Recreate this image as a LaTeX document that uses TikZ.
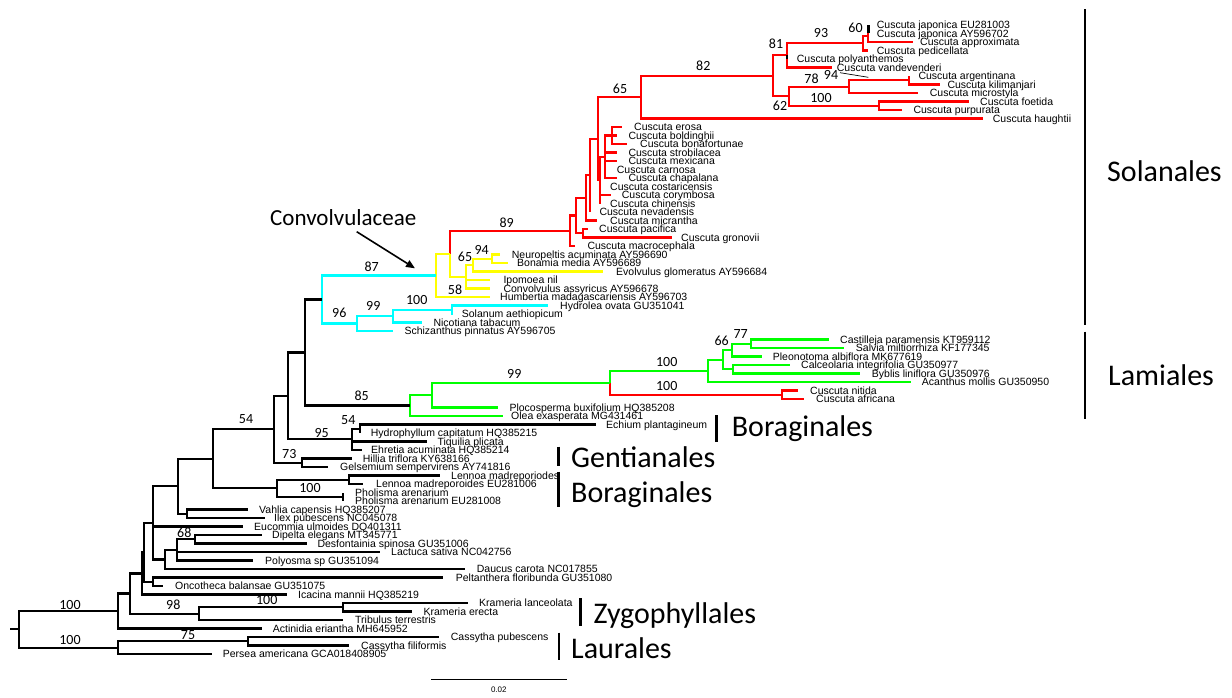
\documentclass[tikz,border=0pt]{standalone}
\usepackage{fontspec}
\setmainfont{Liberation Sans}
\newfontfamily\labfont{Carlito}
\usetikzlibrary{calc,arrows.meta}

\definecolor{tred}{RGB}{255,0,0}
\definecolor{tyellow}{RGB}{255,255,0}
\definecolor{tcyan}{RGB}{0,255,255}
\definecolor{tgreen}{RGB}{0,255,0}

\tikzset{
  br/.style={line width=2.2pt},
  leaf/.style={anchor=base west, inner sep=0pt, font=\fontsize{10.5}{10.5}\selectfont},
  bs/.style={inner sep=0pt, font=\labfont\fontsize{14}{14}\selectfont},
  order/.style={anchor=base west, inner sep=0pt, font=\labfont\fontsize{30}{30}\selectfont},
  bar/.style={line width=2.6pt}
}

% leaf: name, tip x, y, label x, label
\newcommand\leafat[5]{\coordinate (#1) at (#2,#3);
  \node[leaf] (#1l) at (#4,#3+3.8) {#5};}
% inner node: name, x, first child, last child
\newcommand\mknode[4]{\path let \p1=($(#3)!.5!(#4)$) in coordinate (#1) at (#2pt,\y1);}

\begin{document}
\begin{tikzpicture}[x=1pt,y=-1pt]
\useasboundingbox (0,0) rectangle (1232,698);

% leaves
\leafat{cjap1}{868.5}{25}{876.7}{Cuscuta japonica EU281003}
\leafat{cjap2}{868.5}{33.5}{876.7}{Cuscuta japonica AY596702}
\leafat{capp}{913.3}{42}{920}{Cuscuta approximata}
\leafat{cped}{868.3}{50.5}{876.7}{Cuscuta pedicellata}
\leafat{cpol}{786.7}{59}{796.7}{Cuscuta polyanthemos}
\leafat{cvan}{831.7}{67.5}{836.7}{Cuscuta vandevenderi}
\leafat{carg}{909}{76}{918.3}{Cuscuta argentinana}
\leafat{ckil}{940}{84.5}{947.3}{Cuscuta kilimanjari}
\leafat{cmic}{918.3}{93}{929.7}{Cuscuta microstyla}
\leafat{cfoe}{969}{101.5}{980}{Cuscuta foetida}
\leafat{cpur}{901.7}{110}{913.3}{Cuscuta purpurata}
\leafat{chau}{982.7}{118.5}{992.7}{Cuscuta haughtii}
\leafat{cero}{621.7}{127}{634}{Cuscuta erosa}
\leafat{cbol}{616.7}{135.5}{628.3}{Cuscuta boldinghii}
\leafat{cbon}{626.7}{144}{640}{Cuscuta bonafortunae}
\leafat{cstr}{616.7}{152.5}{628.3}{Cuscuta strobilacea}
\leafat{cmex}{616.7}{161}{628.3}{Cuscuta mexicana}
\leafat{ccar}{606}{169.5}{616.7}{Cuscuta carnosa}
\leafat{ccha}{616.7}{178}{628.3}{Cuscuta chapalana}
\leafat{ccos}{600}{186.5}{610}{Cuscuta costaricensis}
\leafat{ccor}{610.7}{195}{621.7}{Cuscuta corymbosa}
\leafat{cchi}{600}{203.5}{610}{Cuscuta chinensis}
\leafat{cnev}{590}{212}{599.3}{Cuscuta nevadensis}
\leafat{cmcr}{596.7}{220.5}{610}{Cuscuta micrantha}
\leafat{cpac}{588}{229}{599}{Cuscuta pacifica}
\leafat{cgro}{672}{237.5}{681}{Cuscuta gronovii}
\leafat{cmac}{575}{246}{587.3}{Cuscuta macrocephala}
\leafat{neur}{500}{254.5}{511.7}{Neuropeltis acuminata AY596690}
\leafat{bona}{508}{263}{517}{Bonamia media AY596689}
\leafat{evol}{603.3}{271.5}{616}{Evolvulus glomeratus AY596684}
\leafat{ipom}{490}{280}{503.3}{Ipomoea nil}
\leafat{conv}{490}{288.5}{503.3}{Convolvulus assyricus AY596678}
\leafat{humb}{490}{297}{500}{Humbertia madagascariensis AY596703}
\leafat{hydr}{548}{305.5}{560}{Hydrolea ovata GU351041}
\leafat{sola}{452}{314}{461.7}{Solanum aethiopicum}
\leafat{nico}{421.7}{322.5}{433.3}{Nicotiana tabacum}
\leafat{schi}{393.3}{331}{404.3}{Schizanthus pinnatus AY596705}
\leafat{cast}{829.3}{339.5}{840}{Castilleja paramensis KT959112}
\leafat{salv}{844.3}{348}{855.7}{Salvia miltiorrhiza KF177345}
\leafat{pleo}{761.7}{356.5}{772.7}{Pleonotoma albiflora MK677619}
\leafat{calc}{790}{365}{801}{Calceolaria integrifolia GU350977}
\leafat{bybl}{860}{373.5}{871.7}{Byblis liniflora GU350976}
\leafat{acan}{910.7}{382}{921.7}{Acanthus mollis GU350950}
\leafat{cnit}{798.3}{390.5}{810}{Cuscuta nitida}
\leafat{cafr}{804}{399}{816}{Cuscuta africana}
\leafat{ploc}{498.3}{407.5}{509.3}{Plocosperma buxifolium HQ385208}
\leafat{olea}{503.3}{416}{511}{Olea exasperata MG431461}
\leafat{echi}{596}{424.5}{606}{Echium plantagineum}
\leafat{hydp}{360}{433}{370.7}{Hydrophyllum capitatum HQ385215}
\leafat{tiqu}{426.7}{441.5}{437.3}{Tiquilia plicata}
\leafat{ehre}{361.7}{450}{371}{Ehretia acuminata HQ385214}
\leafat{hill}{351.7}{458.5}{362.7}{Hillia triflora KY638166}
\leafat{gels}{328.3}{467}{340}{Gelsemium sempervirens AY741816}
\leafat{lenA}{440}{475.5}{451}{Lennoa madreporiodes}
\leafat{lenB}{363.3}{484}{376}{Lennoa madreporoides EU281006}
\leafat{phoA}{343.3}{492.5}{355}{Pholisma arenarium}
\leafat{phoB}{343.3}{501}{355}{Pholisma arenarium EU281008}
\leafat{vahl}{248.3}{509.5}{259}{Vahlia capensis HQ385207}
\leafat{ilex}{265}{518}{274}{Ilex pubescens NC045078}
\leafat{euco}{243.3}{526.5}{254}{Eucommia ulmoides DQ401311}
\leafat{dipe}{262}{535}{272}{Dipelta elegans MT345771}
\leafat{desf}{306.7}{543.5}{317.3}{Desfontainia spinosa GU351006}
\leafat{lact}{380}{552}{391}{Lactuca sativa NC042756}
\leafat{poly}{253.3}{560.5}{265}{Polyosma sp GU351094}
\leafat{dauc}{465}{569}{476.7}{Daucus carota NC017855}
\leafat{pelt}{443.3}{577.5}{455.7}{Peltanthera floribunda GU351080}
\leafat{onco}{163.3}{586}{175}{Oncotheca balansae GU351075}
\leafat{icac}{286.7}{594.5}{298}{Icacina mannii HQ385219}
\leafat{krml}{467.7}{603}{479}{Krameria lanceolata}
\leafat{krme}{411.7}{611.5}{423.3}{Krameria erecta}
\leafat{trib}{342.7}{620}{355}{Tribulus terrestris}
\leafat{acti}{261.7}{628.5}{272.7}{Actinidia eriantha MH645952}
\leafat{casp}{439.3}{637}{450.7}{Cassytha pubescens}
\leafat{casf}{349.3}{645.5}{361}{Cassytha filiformis}
\leafat{pers}{211.7}{654}{222.7}{Persea americana GCA018408905}

% inner nodes, from the tips down
\mknode{J}{868.5}{cjap1}{cjap2}
\mknode{K}{867.7}{J}{capp}
\mknode{L93}{863.3}{K}{cped}
\mknode{M}{786.7}{L93}{cvan}
\mknode{Nk}{909}{carg}{ckil}
\mknode{O78}{849}{Nk}{cmic}
\mknode{P100}{879}{cfoe}{cpur}
\mknode{Q62}{789.3}{O78}{P100}
\mknode{R81}{772.7}{M}{Q62}
\mknode{N82}{640.7}{R81}{chau}
\mknode{G1}{611.7}{cero}{cbon}
\mknode{G2}{605}{G1}{ccha}
\mknode{G3}{600}{G2}{cchi}
\mknode{N65}{598.3}{N82}{G3}
\mknode{G3b}{590}{N65}{cnev}
\mknode{G4}{586}{G3b}{cmcr}
\mknode{PG}{582.7}{cpac}{cgro}
\mknode{X}{576}{G4}{PG}
\mknode{C0}{570}{X}{cmac}
\mknode{Y4}{491.7}{neur}{bona}
\mknode{Y3}{473.3}{Y4}{evol}
\mknode{Y2}{466}{Y3}{conv}
\mknode{Y1}{450}{C0}{Y2}
\mknode{Cv}{436}{Y1}{humb}
\mknode{NS}{451.7}{hydr}{sola}
\mknode{Nc}{393.3}{NS}{nico}
\mknode{N99}{356.7}{Nc}{schi}
\mknode{N96}{321.7}{Cv}{N99}
\mknode{L7}{750.7}{cast}{salv}
\mknode{L5}{731.7}{L7}{pleo}
\mknode{L6}{732.7}{calc}{bybl}
\mknode{L4}{723.3}{L5}{L6}
\mknode{L3}{708.3}{L4}{acan}
\mknode{CN}{781.7}{cnit}{cafr}
\mknode{L2}{610}{L3}{CN}
\mknode{L1}{431.7}{L2}{ploc}
\mknode{L0}{410}{L1}{olea}
\mknode{Bt}{305}{N96}{L0}
\mknode{Bo2}{360}{echi}{hydp}
\mknode{Bo}{351.7}{Bo2}{ehre}
\mknode{B2}{288.3}{Bt}{Bo}
\mknode{Ge}{301.7}{hill}{gels}
\mknode{B3}{274.3}{B2}{Ge}
\mknode{Le2}{349.3}{lenA}{lenB}
\mknode{Ph}{343.3}{phoA}{phoB}
\mknode{Le}{276.7}{Le2}{Ph}
\mknode{B4}{213.3}{B3}{Le}
\mknode{Va}{186.7}{vahl}{ilex}
\mknode{B5}{178.3}{B4}{Va}
\mknode{N68}{195}{dipe}{desf}
\mknode{A176}{176.7}{N68}{poly}
\mknode{A165}{165}{A176}{dauc}
\mknode{B6}{153.3}{B5}{A165}
\mknode{B8}{153.3}{pelt}{onco}
\mknode{B7a}{144}{B6}{B8}
\mknode{B7b}{142}{B7a}{icac}
\mknode{Kr}{343.3}{krml}{krme}
\mknode{Z98}{199}{Kr}{trib}
\mknode{N130}{130}{B7b}{Z98}
\mknode{N118}{118.3}{N130}{acti}
\mknode{N75}{248.3}{casp}{casf}
\mknode{NL}{118.3}{N75}{pers}
\mknode{Root}{19.3}{N118}{NL}
\coordinate (stub) at ($(Root)+(-9.3,0)$);

% red: Cuscuta in Solanales
\foreach \c in {J,capp} \draw[br,tred] (K) |- (\c);
\foreach \c in {K,cped} \draw[br,tred] (L93) |- (\c);
\foreach \c in {L93,cvan} \draw[br,tred] (M) |- (\c);
\foreach \c in {carg,ckil} \draw[br,tred] (Nk) |- (\c);
\foreach \c in {Nk,cmic} \draw[br,tred] (O78) |- (\c);
\foreach \c in {cfoe,cpur} \draw[br,tred] (P100) |- (\c);
\foreach \c in {O78,P100} \draw[br,tred] (Q62) |- (\c);
\foreach \c in {M,Q62} \draw[br,tred] (R81) |- (\c);
\foreach \c in {R81,chau} \draw[br,tred] (N82) |- (\c);
\foreach \c in {cero,cbol,cbon} \draw[br,tred] (G1) |- (\c);
\foreach \c in {G1,cstr,cmex,ccar,ccha} \draw[br,tred] (G2) |- (\c);
\foreach \c in {G2,ccos,ccor,cchi} \draw[br,tred] (G3) |- (\c);
\foreach \c in {N82,G3} \draw[br,tred] (N65) |- (\c);
\foreach \c in {N65,cnev} \draw[br,tred] (G3b) |- (\c);
\foreach \c in {G3b,cmcr} \draw[br,tred] (G4) |- (\c);
\foreach \c in {cpac,cgro} \draw[br,tred] (PG) |- (\c);
\foreach \c in {G4,PG} \draw[br,tred] (X) |- (\c);
\foreach \c in {X,cmac} \draw[br,tred] (C0) |- (\c);
\foreach \c in {cjap1,cjap2} \draw[br] (J) |- (\c);
\draw[br] (M) |- (cpol);

% yellow: rest of Convolvulaceae
\foreach \c in {neur,bona} \draw[br,tyellow] (Y4) |- (\c);
\foreach \c in {Y4,evol} \draw[br,tyellow] (Y3) |- (\c);
\foreach \c in {Y3,ipom,conv} \draw[br,tyellow] (Y2) |- (\c);
\draw[br,tred] (Y1) |- (C0);
\draw[br,tyellow] (Y1) |- (Y2);
\foreach \c in {Y1,humb} \draw[br,tyellow] (Cv) |- (\c);

% cyan
\foreach \c in {hydr,sola} \draw[br,tcyan] (NS) |- (\c);
\foreach \c in {NS,nico} \draw[br,tcyan] (Nc) |- (\c);
\foreach \c in {Nc,schi} \draw[br,tcyan] (N99) |- (\c);
\foreach \c in {Cv,N99} \draw[br,tcyan] (N96) |- (\c);

% green: Lamiales
\foreach \c in {cast,salv} \draw[br,tgreen] (L7) |- (\c);
\foreach \c in {L7,pleo} \draw[br,tgreen] (L5) |- (\c);
\foreach \c in {calc,bybl} \draw[br,tgreen] (L6) |- (\c);
\foreach \c in {L5,L6} \draw[br,tgreen] (L4) |- (\c);
\foreach \c in {L4,acan} \draw[br,tgreen] (L3) |- (\c);
\foreach \c in {cnit,cafr} \draw[br,tred] (CN) |- (\c);
\draw[br,tgreen] (L2) |- (L3);
\draw[br,tred] (L2) |- (CN);
\foreach \c in {L2,ploc} \draw[br,tgreen] (L1) |- (\c);
\foreach \c in {L1,olea} \draw[br,tgreen] (L0) |- (\c);

% black backbone
\foreach \c in {N96,L0} \draw[br] (Bt) |- (\c);
\foreach \c in {echi,hydp} \draw[br] (Bo2) |- (\c);
\foreach \c in {Bo2,tiqu,ehre} \draw[br] (Bo) |- (\c);
\foreach \c in {Bt,Bo} \draw[br] (B2) |- (\c);
\foreach \c in {hill,gels} \draw[br] (Ge) |- (\c);
\foreach \c in {B2,Ge} \draw[br] (B3) |- (\c);
\foreach \c in {lenA,lenB} \draw[br] (Le2) |- (\c);
\foreach \c in {phoA,phoB} \draw[br] (Ph) |- (\c);
\foreach \c in {Le2,Ph} \draw[br] (Le) |- (\c);
\foreach \c in {B3,Le} \draw[br] (B4) |- (\c);
\foreach \c in {vahl,ilex} \draw[br] (Va) |- (\c);
\foreach \c in {B4,Va} \draw[br] (B5) |- (\c);
\foreach \c in {dipe,desf} \draw[br] (N68) |- (\c);
\foreach \c in {N68,lact,poly} \draw[br] (A176) |- (\c);
\foreach \c in {A176,dauc} \draw[br] (A165) |- (\c);
\foreach \c in {B5,euco,A165} \draw[br] (B6) |- (\c);
\foreach \c in {pelt,onco} \draw[br] (B8) |- (\c);
\foreach \c in {B6,B8} \draw[br] (B7a) |- (\c);
\foreach \c in {B7a,icac} \draw[br] (B7b) |- (\c);
\foreach \c in {krml,krme} \draw[br] (Kr) |- (\c);
\foreach \c in {Kr,trib} \draw[br] (Z98) |- (\c);
\foreach \c in {B7b,Z98} \draw[br] (N130) |- (\c);
\foreach \c in {N130,acti} \draw[br] (N118) |- (\c);
\foreach \c in {casp,casf} \draw[br] (N75) |- (\c);
\foreach \c in {N75,pers} \draw[br] (NL) |- (\c);
\foreach \c in {N118,NL} \draw[br] (Root) |- (\c);
\draw[br] (stub) -- (Root);

% support values
\node[bs] (s60) at (855.5,27.5) {60};
\node[bs] (s93) at (821,33.3) {93};
\node[bs] (s81) at (776,43.3) {81};
\node[bs] (s82) at (703.3,66) {82};
\node[bs] (s65a) at (620,89.3) {65};
\node[bs] (s78) at (811.5,78.3) {78};
\node[bs] (s94a) at (831,75) {94};
\node[bs] (s62) at (780,106) {62};
\node[bs] (s100a) at (821,98.3) {100};
\node[bs] (s89) at (506.7,222.7) {89};
\node[bs] (s94b) at (481.7,250) {94};
\node[bs] (s65b) at (465,257.3) {65};
\node[bs] (s58) at (455,289.3) {58};
\node[bs] (s87) at (371.7,266.7) {87};
\node[bs] (s100b) at (416.7,300) {100};
\node[bs] (s99a) at (373.3,306) {99};
\node[bs] (s96) at (339.3,313.3) {96};
\node[bs] (s85) at (361.7,396) {85};
\node[bs] (s99b) at (514.3,374.3) {99};
\node[bs] (s100c) at (666.7,361.7) {100};
\node[bs] (s100d) at (666.7,386) {100};
\node[bs] (s66) at (721.7,340.7) {66};
\node[bs] (s77) at (740.7,334.3) {77};
\node[bs] (s54a) at (246,419.3) {54};
\node[bs] (s54b) at (348.3,420) {54};
\node[bs] (s95) at (321.7,433.3) {95};
\node[bs] (s73) at (289.3,454.3) {73};
\node[bs] (s100e) at (310,488.3) {100};
\node[bs] (s68) at (184.3,532.7) {68};
\node[bs] (s100f) at (266.7,600) {100};
\node[bs] (s98) at (173.3,605) {98};
\node[bs] (s100g) at (70,605) {100};
\node[bs] (s75) at (188,635) {75};
\node[bs] (s100h) at (70,640) {100};
\coordinate (ld1) at (840,72.7);
\coordinate (ld2) at (868.3,77.3);
\draw[line width=0.7pt] (ld1) -- (ld2);

% Convolvulaceae pointer
\node[anchor=base west, inner sep=0pt, font=\labfont\fontsize{23}{23}\selectfont] (convlab) at (270,225) {Convolvulaceae};
\coordinate (arrA) at (356.7,231.7);
\coordinate (arrB) at (415,268.3);
\draw[line width=1.6pt, -{Triangle[length=9pt,width=7.5pt]}] (arrA) -- (arrB);

% orders
\coordinate (solT) at (1085,9.3);   \coordinate (solB) at (1085,325);
\coordinate (lamT) at (1085,331.7); \coordinate (lamB) at (1085,419);
\coordinate (bo1T) at (716.7,415);    \coordinate (bo1B) at (716.7,441.7);
\coordinate (genT) at (558.3,446.7);  \coordinate (genB) at (558.3,466);
\coordinate (bo2T) at (558.3,471.7);  \coordinate (bo2B) at (558.3,506.7);
\coordinate (zygT) at (580.7,598.3);  \coordinate (zygB) at (580.7,626);
\coordinate (lauT) at (559,632.7);    \coordinate (lauB) at (559,660);
\foreach \a/\b in {solT/solB,lamT/lamB,bo1T/bo1B,genT/genB,bo2T/bo2B,zygT/zygB,lauT/lauB}
  \draw[bar] (\a) -- (\b);
\node[order] (sol) at (1107,181.7) {Solanales};
\node[order] (lam) at (1108,385) {Lamiales};
\node[order] (bo1) at (731.7,436.7) {Boraginales};
\node[order] (gen) at (571,467) {Gentianales};
\node[order] (bo2) at (571,502) {Boraginales};
\node[order] (zyg) at (593.3,623.3) {Zygophyllales};
\node[order] (lau) at (571,658.3) {Laurales};

% scale bar
\coordinate (sb1) at (431,679.5);
\coordinate (sb2) at (566.7,679.5);
\draw[line width=1.8pt] (sb1) -- (sb2);
\node[inner sep=0pt, font=\fontsize{8}{8}\selectfont] (sblab) at (498.8,690) {0.02};
\end{tikzpicture}
\end{document}
